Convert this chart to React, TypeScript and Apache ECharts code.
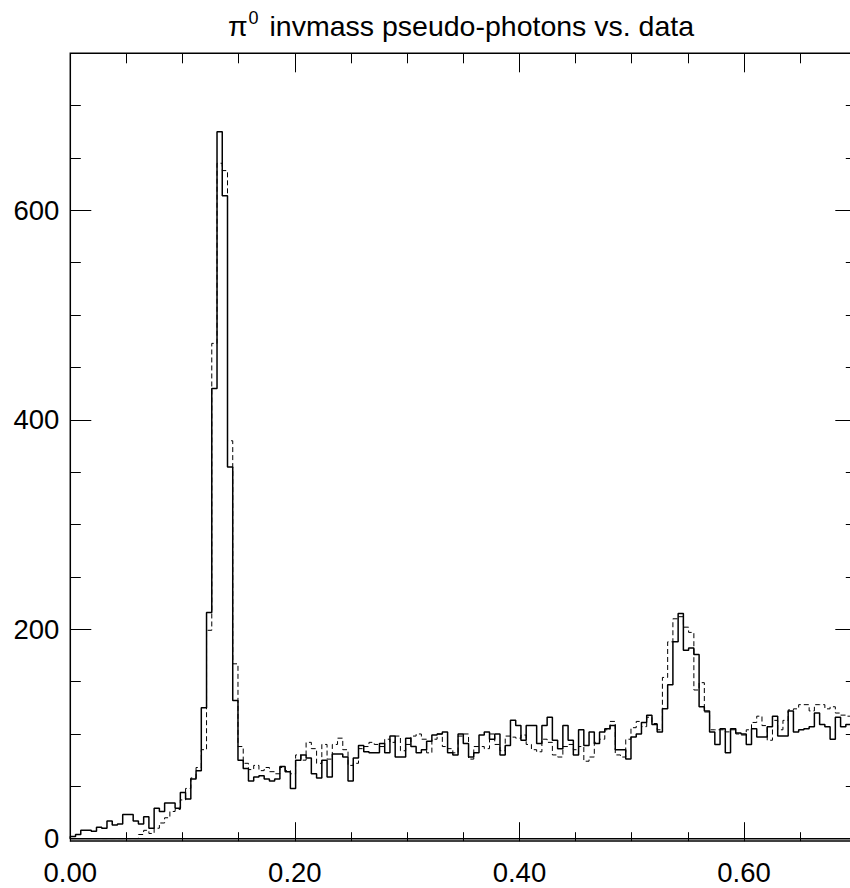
import React, { useEffect, useRef } from "react";
import * as echarts from "echarts";

// 150 bins from 0 to 0.70 (bin width 0.7/150)
const X_MIN = 0;
const X_MAX = 0.7;
const N_BINS = 150;
const Y_MAX = 750;

// solid histogram: data
const dataCounts = [
  2, 4, 8, 8, 7, 11, 10, 17, 13, 14,
  23, 23, 17, 14, 21, 10, 29, 26, 34, 34,
  29, 44, 38, 57, 65, 125, 216, 430, 675, 614,
  355, 132, 75, 67, 55, 59, 60, 57, 55, 57,
  69, 64, 48, 75, 80, 77, 62, 58, 75, 59,
  81, 81, 78, 55, 77, 89, 83, 82, 82, 91,
  82, 98, 78, 78, 96, 88, 82, 85, 93, 99,
  100, 102, 82, 80, 100, 91, 78, 82, 99, 102,
  95, 100, 80, 89, 113, 108, 94, 108, 108, 91,
  108, 116, 94, 86, 108, 94, 80, 104, 89, 102,
  91, 102, 105, 108, 85, 85, 76, 97, 100, 111,
  118, 109, 102, 124, 147, 188, 215, 180, 182, 176,
  126, 122, 102, 90, 105, 82, 105, 101, 100, 90,
  105, 97, 97, 107, 117, 98, 98, 122, 102, 104,
  105, 107, 120, 109, 107, 95, 116, 107, 109, 105,
];

// dashed histogram: pseudo-photons
const pseudoCounts = [
  0, 0, 0, 0, 0, 0, 0, 0, 0, 0,
  0, 0, 0, 4, 8, 5, 10, 15, 20, 26,
  28, 37, 48, 58, 68, 85, 199, 473, 645, 638,
  380, 167, 88, 72, 66, 70, 65, 68, 64, 62,
  68, 65, 62, 80, 75, 92, 86, 72, 90, 76,
  90, 96, 85, 70, 72, 86, 88, 92, 90, 88,
  95, 92, 98, 84, 90, 98, 100, 95, 82, 95,
  100, 88, 86, 82, 98, 100, 76, 88, 88, 86,
  100, 90, 84, 98, 97, 96, 99, 90, 85, 83,
  95, 92, 80, 78, 88, 90, 85, 88, 74, 78,
  92, 95, 104, 112, 80, 78, 95, 106, 112, 107,
  116, 110, 104, 154, 188, 210, 212, 202, 197, 142,
  149, 121, 104, 104, 104, 102, 104, 100, 99, 104,
  111, 117, 108, 94, 113, 104, 113, 123, 124, 128,
  128, 122, 128, 128, 124, 126, 120, 118, 117, 117,
];

const xTickLabels = ["0.00", "0.20", "0.40", "0.60"];
const yTickLabels = ["0", "200", "400", "600"];

const FONT = "'Liberation Sans', Arial, Helvetica, sans-serif";

function toSteps(vals: number[]): number[][] {
  const w = (X_MAX - X_MIN) / N_BINS;
  const pts: number[][] = [[X_MIN, 0]];
  vals.forEach((v, i) => pts.push([X_MIN + i * w, v]));
  pts.push([X_MAX, vals[vals.length - 1]]);
  return pts;
}

function xAxisDef(
  position: "bottom" | "top",
  interval: number,
  tickLen: number,
  showLabels: boolean,
  showLine: boolean,
  offset: number
) {
  return {
    type: "value",
    min: X_MIN,
    max: X_MAX,
    interval,
    position,
    offset,
    axisLine: { show: showLine, onZero: false, lineStyle: { color: "#000", width: 1.5 } },
    axisTick: { show: true, inside: true, length: tickLen, lineStyle: { color: "#000", width: 1 } },
    minorTick: { show: false },
    splitLine: { show: false },
    axisLabel: {
      show: showLabels,
      showMaxLabel: false,
      margin: 17,
      fontSize: 27.5,
      fontFamily: FONT,
      color: "#000",
      formatter: (v: number) => {
        const s = v.toFixed(2);
        return xTickLabels.includes(s) ? s : "";
      },
    },
  };
}

function yAxisDef(
  position: "left" | "right",
  interval: number,
  tickLen: number,
  showLabels: boolean
) {
  return {
    type: "value",
    min: 0,
    max: Y_MAX,
    interval,
    position,
    axisLine: { show: false, onZero: false },
    axisTick: { show: true, inside: true, length: tickLen, lineStyle: { color: "#000", width: 1 } },
    minorTick: { show: false },
    splitLine: { show: false },
    axisLabel: {
      show: showLabels,
      showMaxLabel: false,
      margin: 11,
      fontSize: 27.5,
      fontFamily: FONT,
      color: "#000",
      formatter: (v: number) => {
        const s = String(Math.round(v));
        return yTickLabels.includes(s) ? s : "";
      },
    },
  };
}

export default function App() {
  const ref = useRef<HTMLDivElement>(null);

  useEffect(() => {
    if (!ref.current) return;
    const chart = echarts.init(ref.current, null, { renderer: "svg" });
    chart.setOption({
      animation: false,
      backgroundColor: "#fff",
      title: {
        text: "{p|π}{s|0} invmass pseudo-photons vs. data",
        left: 461,
        top: 9,
        textAlign: "center",
        padding: 0,
        textStyle: {
          fontFamily: FONT,
          fontSize: 28.5,
          fontWeight: "normal",
          color: "#000",
          lineHeight: 34,
          rich: {
            p: { fontFamily: FONT, fontSize: 28.5, color: "#000", lineHeight: 34 },
            s: {
              fontFamily: FONT,
              fontSize: 18,
              color: "#000",
              lineHeight: 34,
              verticalAlign: "top",
              padding: [0, 3, 0, 1],
            },
          },
        },
      },
      grid: {
        left: 70.3,
        right: 3.7,
        top: 53.3,
        bottom: 49.3,
        show: true,
        borderColor: "#000",
        borderWidth: 1.5,
        backgroundColor: "transparent",
        containLabel: false,
        outerBoundsMode: "none",
      },
      xAxis: [
        xAxisDef("bottom", 0.2, 19, true, true, 2.5),
        xAxisDef("bottom", 0.05, 9, false, false, 2.5),
        xAxisDef("top", 0.2, 19, false, false, 0),
        xAxisDef("top", 0.05, 10, false, false, 0),
      ],
      yAxis: [
        yAxisDef("left", 200, 21, true),
        yAxisDef("left", 50, 10.5, false),
        yAxisDef("right", 200, 21, false),
        yAxisDef("right", 50, 10.5, false),
      ],
      series: [
        {
          name: "pseudo-photons",
          type: "line",
          xAxisIndex: 0,
          yAxisIndex: 0,
          step: "end",
          showSymbol: false,
          symbol: "none",
          silent: true,
          z: 2,
          lineStyle: { color: "#000", width: 1, type: [5, 3] },
          data: toSteps(pseudoCounts),
        },
        {
          name: "data",
          type: "line",
          xAxisIndex: 0,
          yAxisIndex: 0,
          step: "end",
          showSymbol: false,
          symbol: "none",
          silent: true,
          z: 3,
          lineStyle: { color: "#000", width: 1.5, type: "solid" },
          data: toSteps(dataCounts),
        },
      ],
    });
    return () => chart.dispose();
  }, []);

  return (
    <div
      style={{
        position: "absolute",
        left: 0,
        top: 0,
        width: 850,
        height: 888,
        overflow: "hidden",
        background: "#fff",
      }}
    >
      <div ref={ref} style={{ width: 860, height: 888 }} />
    </div>
  );
}
